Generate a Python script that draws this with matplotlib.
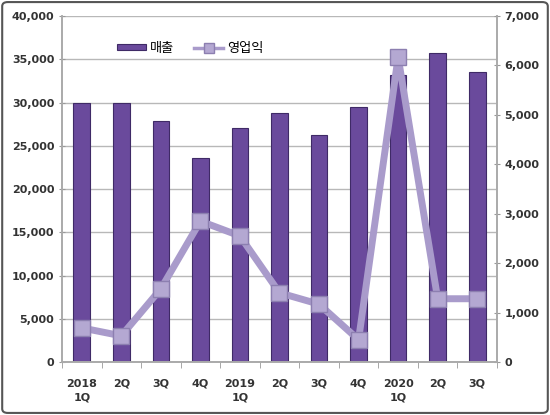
import matplotlib
matplotlib.use('Agg')
import matplotlib.pyplot as plt
from matplotlib.patches import FancyBboxPatch
from matplotlib.ticker import FuncFormatter, MultipleLocator
import numpy as np

plt.rcParams['font.family'] = ['DejaVu Sans', 'Noto Sans CJK KR']

quarters = ['2018\n1Q', '2Q', '3Q', '4Q', '2019\n1Q', '2Q', '3Q', '4Q', '2020\n1Q', '2Q', '3Q']
sales = [30000, 29900, 27900, 23600, 27000, 28800, 26200, 29500, 33200, 35700, 33500]
op_profit = [690, 530, 1480, 2850, 2550, 1400, 1170, 450, 6170, 1280, 1280]

bar_color = '#6a4a9c'
bar_edge = '#3f2a66'
line_color = '#a99bcb'

fig = plt.figure(figsize=(5.5, 4.15), dpi=100)
fig.patches.append(FancyBboxPatch((0.004, 0.005), 0.992, 0.99, boxstyle='round,pad=0,rounding_size=0.01',
                                  transform=fig.transFigure, fill=False, edgecolor='#555555', linewidth=1.5))

ax = fig.add_axes([0.1127, 0.1277, 0.7909, 0.8337])
x = np.arange(len(quarters))
ax.bar(x, sales, width=0.42, color=bar_color, edgecolor=bar_edge, linewidth=0.8, zorder=2, label='매출')
ax.set_ylim(0, 40000)
ax.set_xlim(-0.5, len(quarters) - 0.5)
ax.yaxis.set_major_locator(MultipleLocator(5000))
ax.yaxis.set_major_formatter(FuncFormatter(lambda v, p: f'{int(v):,}'))
ax.grid(axis='y', color='#b8b8b8', linewidth=1, zorder=0)
ax.set_axisbelow(True)
ax.set_xticks(x)
ax.set_xticklabels(quarters, fontsize=8, color='#333333', fontweight='bold', linespacing=1.5)
ax.set_xticks(np.arange(-0.5, len(quarters)), minor=True)
ax.tick_params(axis='x', which='major', length=0, pad=12)
ax.tick_params(axis='x', which='minor', length=4, color='#999999', direction='out')
ax.tick_params(axis='y', labelsize=8, labelcolor='#333333', length=4, color='#999999', direction='inout')
for lbl in ax.get_yticklabels():
    lbl.set_fontweight('bold')
ax.spines['top'].set_visible(False)
for s in ['left', 'bottom', 'right']:
    ax.spines[s].set_color('#aaaaaa')
    ax.spines[s].set_linewidth(1.2)

ax2 = ax.twinx()
ax2.plot(x, op_profit, color=line_color, linewidth=5, marker='s', markersize=11,
         markerfacecolor='#b4a8d2', markeredgecolor='#8c7fb0', markeredgewidth=1, zorder=3, label='영업익')
ax2.set_ylim(0, 7000)
ax2.yaxis.set_major_locator(MultipleLocator(1000))
ax2.yaxis.set_major_formatter(FuncFormatter(lambda v, p: f'{int(v):,}'))
ax2.tick_params(axis='y', labelsize=8, labelcolor='#333333', length=4, color='#999999', direction='inout')
for lbl in ax2.get_yticklabels():
    lbl.set_fontweight('bold')
ax2.spines['top'].set_visible(False)
for s in ['left', 'bottom', 'right']:
    ax2.spines[s].set_color('#aaaaaa')
    ax2.spines[s].set_linewidth(1.2)

h1, l1 = ax.get_legend_handles_labels()
h2, l2 = ax2.get_legend_handles_labels()
leg = ax2.legend(h1 + h2, l1 + l2, loc='upper left', bbox_to_anchor=(0.1, 0.96), ncol=2, frameon=False,
                 handlelength=2.2, handleheight=0.4, columnspacing=1.5, handletextpad=0.3, markerscale=0.6,
                 prop={'family': ['Noto Sans CJK KR'], 'size': 9.5})
leg.get_lines()[0].set_linewidth(2.5) if leg.get_lines() else None

fig.savefig('out.png', dpi=100)
